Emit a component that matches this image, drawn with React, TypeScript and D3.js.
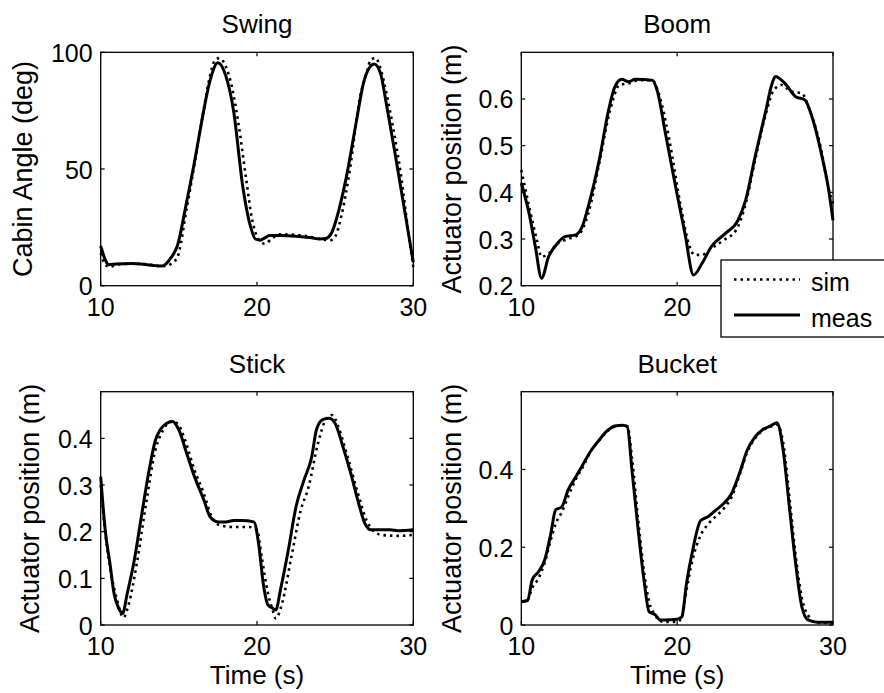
import React from "react";
import * as d3 from "d3";

const width = 884;
const height = 693;
const font = "'Liberation Sans', Arial, sans-serif";

const xTicks = [10, 20, 30];

// Swing (cabin angle, deg)
const swingMeasT = [10, 10.3, 10.5, 11, 12, 12.7, 13.5, 13.9, 14.2, 14.5, 14.9, 15.5, 16.0, 16.4, 17.0, 17.5, 18.0, 18.5, 19.1, 19.6, 19.9, 20.2, 20.5, 20.8, 21.5, 22.5, 23.5, 24.0, 24.4, 24.8, 25.1, 25.7, 26.4, 26.8, 27.2, 27.5, 27.9, 28.3, 28.9, 29.4, 30];
const swingMeas = [17, 11, 9, 9.3, 9.5, 9.2, 8.6, 8.4, 9.5, 12, 17, 36, 53, 68, 88, 95.5, 90, 75, 42, 25, 20, 19.5, 20.5, 21.5, 21.5, 21.2, 20.5, 20, 20.2, 23, 29, 46, 72, 86.5, 93.5, 95, 91, 77, 54, 34, 10];
const swingSimT = [10, 10.3, 10.6, 11, 12, 13, 13.8, 14.3, 14.6, 14.9, 15.5, 16.0, 16.5, 17.0, 17.3, 17.6, 18.0, 18.4, 18.8, 19.3, 19.7, 20.1, 20.5, 21.0, 21.5, 22.5, 23.5, 24.2, 24.7, 25.0, 25.4, 25.9, 26.6, 27.0, 27.3, 27.6, 27.9, 28.3, 28.7, 29.2, 29.7, 30];
const swingSim = [14, 9, 8, 9, 9.4, 9.2, 8.4, 8.6, 10, 12, 33, 52, 72, 90, 96.5, 97.5, 94, 85, 70, 46, 28, 20, 18, 20.5, 22, 21.8, 20.8, 19.8, 19.5, 21, 30, 48, 81, 91, 97, 97.5, 93, 82, 68, 48, 22, 8];

// Boom (actuator position, m)
const boomMeasT = [10, 10.5, 10.9, 11.3, 11.75, 12.3, 12.8, 13.5, 13.9, 14.3, 15.0, 15.6, 16.0, 16.45, 16.9, 17.3, 18.4, 18.7, 19.25, 19.9, 20.5, 21.05, 21.6, 22.2, 23.1, 23.9, 24.4, 25.0, 25.65, 26.1, 26.3, 26.9, 27.6, 28.2, 28.65, 29.3, 29.7, 30];
const boomMeas = [0.42, 0.355, 0.284, 0.216, 0.262, 0.29, 0.305, 0.309, 0.326, 0.37, 0.469, 0.576, 0.626, 0.642, 0.637, 0.642, 0.64, 0.62, 0.526, 0.412, 0.312, 0.223, 0.248, 0.284, 0.312, 0.34, 0.384, 0.476, 0.569, 0.634, 0.648, 0.634, 0.605, 0.598, 0.562, 0.476, 0.41, 0.34];
const boomSimT = [10, 10.5, 11.0, 11.3, 11.8, 12.3, 13.0, 13.7, 14.3, 15.0, 15.7, 16.3, 17.0, 17.5, 18.4, 19.0, 19.5, 20.2, 20.8, 21.1, 21.6, 22.2, 23.0, 23.8, 24.4, 25.0, 25.7, 26.2, 26.7, 27.3, 28.0, 28.5, 29.2, 29.7, 30];
const boomSim = [0.448, 0.37, 0.298, 0.262, 0.27, 0.29, 0.3, 0.31, 0.355, 0.462, 0.576, 0.63, 0.634, 0.64, 0.64, 0.59, 0.512, 0.376, 0.284, 0.266, 0.266, 0.28, 0.298, 0.32, 0.376, 0.469, 0.569, 0.619, 0.63, 0.616, 0.612, 0.576, 0.498, 0.41, 0.376];

// Stick (actuator position, m)
const stickMeasT = [10, 10.3, 10.6, 10.85, 11.1, 11.4, 11.7, 12.1, 12.6, 13.1, 13.5, 13.8, 14.2, 14.6, 15.0, 15.5, 16.0, 16.6, 17.0, 17.5, 18.0, 18.5, 19.0, 19.8, 20.1, 20.4, 20.7, 21.0, 21.2, 21.5, 22.0, 22.5, 23.0, 23.5, 23.8, 24.2, 24.6, 25.0, 25.5, 26.0, 26.5, 26.9, 27.3, 28.0, 28.5, 29.0, 30];
const stickMeas = [0.318, 0.2, 0.13, 0.068, 0.04, 0.025, 0.068, 0.13, 0.232, 0.332, 0.396, 0.418, 0.432, 0.436, 0.418, 0.368, 0.318, 0.268, 0.232, 0.221, 0.221, 0.224, 0.224, 0.221, 0.175, 0.089, 0.043, 0.036, 0.032, 0.075, 0.16, 0.254, 0.31, 0.36, 0.418, 0.44, 0.443, 0.432, 0.382, 0.325, 0.261, 0.218, 0.204, 0.204, 0.204, 0.202, 0.204];
const stickSimT = [10, 10.3, 10.7, 11.0, 11.45, 11.8, 12.3, 12.9, 13.5, 14.0, 14.5, 14.9, 15.4, 16.0, 16.6, 17.1, 17.6, 18.5, 19.5, 20.0, 20.3, 20.7, 21.0, 21.2, 21.6, 22.2, 22.8, 23.3, 23.9, 24.4, 24.8, 25.2, 25.8, 26.4, 27.0, 27.5, 28.0, 29.0, 30];
const stickSim = [0.3, 0.196, 0.104, 0.06, 0.016, 0.046, 0.13, 0.26, 0.375, 0.418, 0.436, 0.432, 0.396, 0.332, 0.282, 0.232, 0.214, 0.21, 0.21, 0.204, 0.146, 0.068, 0.032, 0.014, 0.046, 0.146, 0.246, 0.296, 0.389, 0.44, 0.45, 0.425, 0.36, 0.289, 0.225, 0.2, 0.193, 0.191, 0.193];

// Bucket (actuator position, m)
const bucketT = [10, 10.4, 10.7, 11.1, 11.5, 11.9, 12.2, 12.6, 13.0, 13.5, 14.0, 14.5, 15.0, 15.5, 16.0, 16.5, 16.8, 17.1, 17.5, 17.9, 18.2, 18.6, 18.9, 19.2, 20.0, 20.3, 20.6, 21.0, 21.5, 22.0, 22.5, 23.0, 23.5, 24.0, 24.5, 25.0, 25.5, 26.0, 26.4, 26.8, 27.2, 27.6, 28.0, 28.4, 29.0, 30];
const bucketMeas = [0.06, 0.063, 0.116, 0.137, 0.167, 0.236, 0.296, 0.304, 0.347, 0.381, 0.416, 0.45, 0.476, 0.499, 0.512, 0.514, 0.51, 0.399, 0.244, 0.107, 0.034, 0.026, 0.013, 0.013, 0.015, 0.021, 0.107, 0.193, 0.268, 0.279, 0.296, 0.313, 0.339, 0.39, 0.45, 0.484, 0.503, 0.512, 0.52, 0.45, 0.304, 0.159, 0.047, 0.013, 0.007, 0.007];
const bucketSim = [0.06, 0.065, 0.095, 0.12, 0.16, 0.22, 0.26, 0.29, 0.33, 0.375, 0.41, 0.45, 0.475, 0.498, 0.51, 0.513, 0.512, 0.43, 0.27, 0.13, 0.06, 0.025, 0.01, 0.008, 0.008, 0.02, 0.09, 0.17, 0.23, 0.26, 0.28, 0.3, 0.33, 0.385, 0.445, 0.48, 0.5, 0.51, 0.515, 0.47, 0.33, 0.18, 0.07, 0.025, 0.005, 0.005];

const zip = (t: number[], v: number[]) => t.map((x, i) => [x, v[i]] as [number, number]);

type Box = { left: number; top: number; right: number; bottom: number };

const Panel = ({ title, yLabel, yDomain, yTicks, box, labelX, xLabel, xLabelTicks, meas, sim }: {
  title: string; yLabel: string; yDomain: [number, number]; yTicks: number[]; box: Box;
  labelX: number; xLabel?: string; xLabelTicks: number[]; meas: [number, number][]; sim: [number, number][];
}) => {
  const x = d3.scaleLinear().domain([10, 30]).range([box.left, box.right]);
  const y = d3.scaleLinear().domain(yDomain).range([box.bottom, box.top]);
  const line = d3.line<[number, number]>().x(d => x(d[0])).y(d => y(d[1])).curve(d3.curveMonotoneX);
  const cx = (box.left + box.right) / 2;
  const cy = (box.top + box.bottom) / 2;
  const tl = 4;
  return (
    <g fontFamily={font} fill="#000">
      <text x={cx} y={box.top - 19} textAnchor="middle" fontSize={26}>{title}</text>
      <path d={line(sim) || ""} fill="none" stroke="#000" strokeWidth={2.6} strokeDasharray="2.5 4" />
      <path d={line(meas) || ""} fill="none" stroke="#000" strokeWidth={3} />
      <rect x={box.left} y={box.top} width={box.right - box.left} height={box.bottom - box.top} fill="none" stroke="#000" strokeWidth={1.3} />
      {xTicks.map(t => (
        <g key={t}>
          <line x1={x(t)} x2={x(t)} y1={box.bottom} y2={box.bottom - tl} stroke="#000" strokeWidth={1.2} />
          <line x1={x(t)} x2={x(t)} y1={box.top} y2={box.top + tl} stroke="#000" strokeWidth={1.2} />
        </g>
      ))}
      {xLabelTicks.map(t => (
        <text key={t} x={x(t)} y={box.bottom + 30} textAnchor="middle" fontSize={25}>{t}</text>
      ))}
      {yTicks.map(t => (
        <g key={t}>
          <line x1={box.left} x2={box.left + tl} y1={y(t)} y2={y(t)} stroke="#000" strokeWidth={1.2} />
          <line x1={box.right} x2={box.right - tl} y1={y(t)} y2={y(t)} stroke="#000" strokeWidth={1.2} />
          <text x={box.left - 8} y={y(t) + 9.5} textAnchor="end" fontSize={25}>{String(t)}</text>
        </g>
      ))}
      <text transform={`translate(${labelX},${cy}) rotate(-90)`} textAnchor="middle" fontSize={27}>{yLabel}</text>
      {xLabel && <text x={cx} y={box.bottom + 59} textAnchor="middle" fontSize={26}>{xLabel}</text>}
    </g>
  );
};

const App = () => {
  const topRow = { top: 52.3, bottom: 285.7 };
  const botRow = { top: 391.7, bottom: 625 };
  const leftCol = { left: 100.7, right: 413.3 };
  const rightCol = { left: 521.3, right: 833 };
  return (
    <svg width={width} height={height} style={{ position: "absolute", left: 0, top: 0, background: "#fff" }}>
      <rect width={width} height={height} fill="#fff" />
      <Panel title="Swing" yLabel="Cabin Angle (deg)" yDomain={[0, 100]} yTicks={[0, 50, 100]}
        box={{ ...leftCol, ...topRow }} labelX={32} xLabelTicks={xTicks}
        meas={zip(swingMeasT, swingMeas)} sim={zip(swingSimT, swingSim)} />
      {/* the 30 label under Boom is hidden by the legend in the original */}
      <Panel title="Boom" yLabel="Actuator position (m)" yDomain={[0.2, 0.7]} yTicks={[0.2, 0.3, 0.4, 0.5, 0.6]}
        box={{ ...rightCol, ...topRow }} labelX={461} xLabelTicks={[10, 20]}
        meas={zip(boomMeasT, boomMeas)} sim={zip(boomSimT, boomSim)} />
      <Panel title="Stick" yLabel="Actuator position (m)" yDomain={[0, 0.5]} yTicks={[0, 0.1, 0.2, 0.3, 0.4]}
        box={{ ...leftCol, ...botRow }} labelX={39} xLabel="Time (s)" xLabelTicks={xTicks}
        meas={zip(stickMeasT, stickMeas)} sim={zip(stickSimT, stickSim)} />
      <Panel title="Bucket" yLabel="Actuator position (m)" yDomain={[0, 0.6]} yTicks={[0, 0.2, 0.4]}
        box={{ ...rightCol, ...botRow }} labelX={461} xLabel="Time (s)" xLabelTicks={xTicks}
        meas={zip(bucketT, bucketMeas)} sim={zip(bucketT, bucketSim)} />
      <g fontFamily={font}>
        <rect x={721} y={260} width={200} height={77} fill="#fff" stroke="#000" strokeWidth={1.3} />
        <line x1={734} x2={800} y1={279.5} y2={279.5} stroke="#000" strokeWidth={2.6} strokeDasharray="2.5 4" />
        <line x1={734} x2={800} y1={315} y2={315} stroke="#000" strokeWidth={3} />
        <text x={811} y={291} fontSize={25}>sim</text>
        <text x={811} y={327} fontSize={25}>meas</text>
      </g>
    </svg>
  );
};

export default App;
